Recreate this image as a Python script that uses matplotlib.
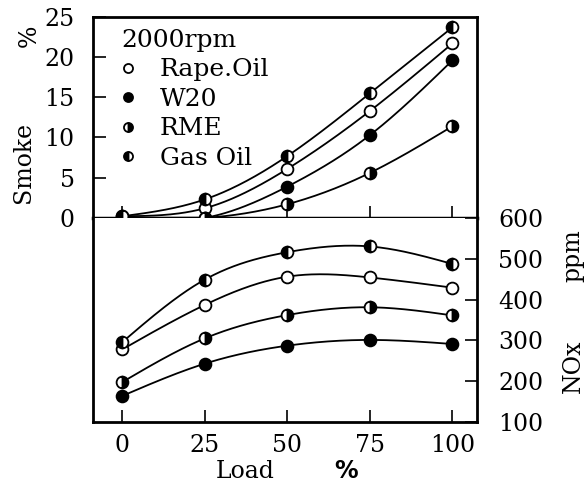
import numpy as np
import matplotlib
matplotlib.use("Agg")
from matplotlib import pyplot as plt
from matplotlib.lines import Line2D

# load points (%)
load = [0, 25, 50, 75, 100]

# smoke (%)
smoke_rape = [0.2, 1.2, 6.1, 13.3, 21.7]
smoke_w20 = [0.0, 0.0, 3.9, 10.3, 19.6]
smoke_rme = [0.0, 0.0, 1.7, 5.6, 11.4]
smoke_gas = [0.2, 2.3, 7.7, 15.5, 23.7]

# NOx (ppm)
nox_rape = [278, 387, 456, 454, 429]
nox_w20 = [164, 243, 287, 301, 291]
nox_rme = [198, 305, 362, 381, 361]
nox_gas = [296, 449, 516, 530, 487]

names = ["Rape.Oil", "W20", "RME", "Gas Oil"]
fills = ["none", "full", "right", "left"]


def smooth(x, y, n=200):
    # natural cubic spline through the points, just for drawing the curve
    x = np.asarray(x, float)
    y = np.asarray(y, float)
    h = np.diff(x)
    m = len(x)
    A = np.zeros((m, m))
    b = np.zeros(m)
    A[0, 0] = A[-1, -1] = 1
    for i in range(1, m - 1):
        A[i, i - 1] = h[i - 1]
        A[i, i] = 2 * (h[i - 1] + h[i])
        A[i, i + 1] = h[i]
        b[i] = 6 * ((y[i + 1] - y[i]) / h[i] - (y[i] - y[i - 1]) / h[i - 1])
    M = np.linalg.solve(A, b)
    xs = np.linspace(x[0], x[-1], n)
    k = np.clip(np.searchsorted(x, xs) - 1, 0, m - 2)
    t0 = x[k + 1] - xs
    t1 = xs - x[k]
    hk = h[k]
    ys = (M[k] * t0**3 / (6 * hk) + M[k + 1] * t1**3 / (6 * hk)
          + (y[k] / hk - M[k] * hk / 6) * t0 + (y[k + 1] / hk - M[k + 1] * hk / 6) * t1)
    return xs, ys


def marker_style(fs, size):
    st = dict(marker="o", markersize=size, markeredgecolor="black", markerfacecolor="black",
              markerfacecoloralt="white", markeredgewidth=1.3, linestyle="none", zorder=3)
    if fs == "none":
        st["markerfacecolor"] = "white"
        st["fillstyle"] = "full"
    else:
        st["fillstyle"] = fs
    return st


plt.rcParams["font.family"] = ["DejaVu Serif"]
FS = 17
fig = plt.figure(figsize=(5.87, 4.82), dpi=100)
ax1 = fig.add_axes([0.158, 0.548, 0.655, 0.417])
ax2 = fig.add_axes([0.158, 0.1245, 0.655, 0.4235])

for ys, fs in zip([smoke_rape, smoke_w20, smoke_rme, smoke_gas], fills):
    xs, yy = smooth(load, ys)
    yy = np.maximum(yy, 0)
    ax1.plot(xs, yy, color="black", lw=1.3)
    ax1.plot(load, ys, clip_on=False, **marker_style(fs, 8.5))

for ys, fs in zip([nox_rape, nox_w20, nox_rme, nox_gas], fills):
    xs, yy = smooth(load, ys)
    ax2.plot(xs, yy, color="black", lw=1.3)
    ax2.plot(load, ys, clip_on=False, **marker_style(fs, 8.5))

for ax in (ax1, ax2):
    ax.set_xlim(-9, 107.5)
    ax.set_xticks(load)
    for s in ax.spines.values():
        s.set_linewidth(2)

ax1.set_ylim(0, 25)
ax1.set_yticks([0, 5, 10, 15, 20, 25])
ax1.tick_params(axis="y", direction="in", length=9, width=1.2, labelsize=FS, pad=13)
ax1.tick_params(axis="x", direction="in", length=9, width=1.2, labelbottom=False)
ax1.spines["bottom"].set_linewidth(2.5)

ax2.set_ylim(100, 600)
ax2.set_yticks([100, 200, 300, 400, 500, 600])
ax2.yaxis.tick_right()
ax2.tick_params(axis="y", direction="in", length=9, width=1.2, labelsize=FS, pad=15)
ax2.tick_params(axis="x", direction="in", length=9, width=1.2, labelsize=FS, pad=9)
ax2.spines["top"].set_visible(False)

# legend
handles = [Line2D([], [], **marker_style(fs, 6.5)) for fs in fills]
leg = ax1.legend(handles, names, title="2000rpm", loc="upper left", frameon=False,
                 fontsize=18, title_fontsize=18, handlelength=0.6, handletextpad=0.95,
                 labelspacing=0.26, borderaxespad=0.0, borderpad=0.2,
                 bbox_to_anchor=(0.06, 0.965))
leg._legend_box.align = "left"

fig.text(0.04, 0.664, "Smoke", rotation=90, fontsize=FS, ha="center", va="center")
fig.text(0.05, 0.925, "%", rotation=90, fontsize=FS, ha="center", va="center")
fig.text(0.976, 0.24, "NOx", rotation=90, fontsize=FS, ha="center", va="center")
fig.text(0.976, 0.47, "ppm", rotation=90, fontsize=FS, ha="center", va="center")
fig.text(0.417, 0.022, "Load", fontsize=FS, ha="center", va="center")
fig.text(0.59, 0.022, "%", fontsize=FS, ha="center", va="center", family="DejaVu Sans",
         weight="bold")

fig.savefig("out.png", dpi=100)
